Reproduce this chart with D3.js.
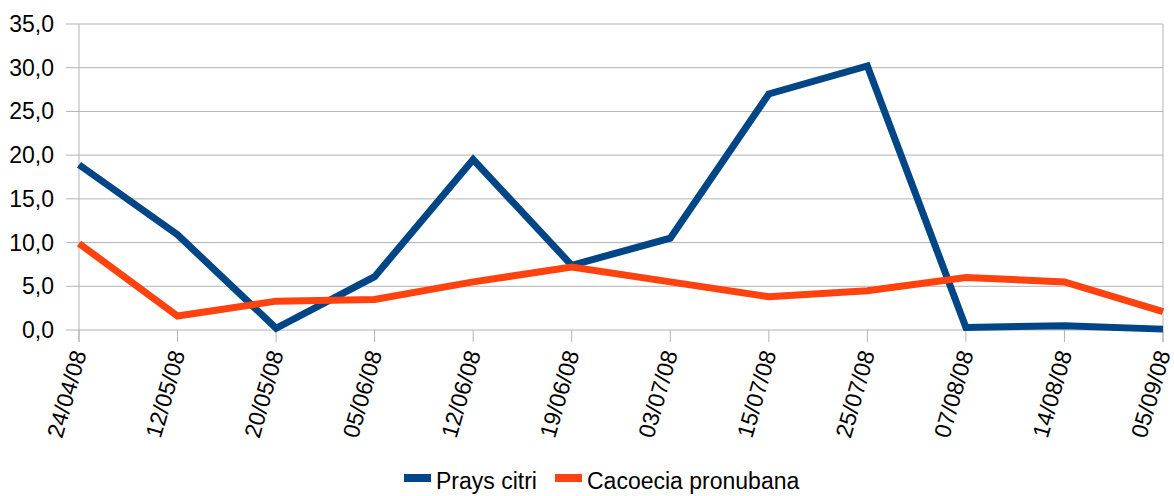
<!DOCTYPE html>
<html>
<head>
<meta charset="utf-8">
<script src="https://cdn.jsdelivr.net/npm/d3@7"></script>
<style>
  body { margin: 0; background: #fff; }
  svg text { font-family: "Liberation Sans", Arial, sans-serif; fill: #000; }
</style>
</head>
<body>
<svg id="chart" width="1174" height="496"></svg>
<script>
// dates of the samples
var dates = ["24/04/08", "12/05/08", "20/05/08", "05/06/08", "12/06/08", "19/06/08",
             "03/07/08", "15/07/08", "25/07/08", "07/08/08", "14/08/08", "05/09/08"];

var praysCitri = [18.9, 10.9, 0.2, 6.1, 19.5, 7.4, 10.5, 27.0, 30.2, 0.3, 0.5, 0.1];
var cacoecia   = [9.9, 1.6, 3.3, 3.5, 5.5, 7.2, 5.5, 3.8, 4.5, 6.0, 5.5, 2.1];

var yTicks = [0, 5, 10, 15, 20, 25, 30, 35];

var series = [
    {name: "Prays citri",        values: praysCitri, color: "#004586"},
    {name: "Cacoecia pronubana", values: cacoecia,   color: "#ff420e"}
];

var svg = d3.select("#chart");
var plotL = 79, plotR = 1163, plotT = 24, plotB = 330;

var x = d3.scalePoint().domain(dates).range([plotL, plotR]);
var y = d3.scaleLinear().domain([0, 35]).range([plotB, plotT]);

var fmt = function(v) { return d3.format(".1f")(v).replace(".", ","); };

// grid lines
svg.append("g")
    .selectAll("line")
    .data(yTicks)
    .enter().append("line")
        .attr("x1", plotL - 13).attr("x2", plotR)
        .attr("y1", function(d) { return y(d); })
        .attr("y2", function(d) { return y(d); })
        .attr("stroke", "#b3b3b3").attr("stroke-width", 1);

// walls: left axis and right border
svg.append("line").attr("x1", plotL).attr("x2", plotL).attr("y1", plotT).attr("y2", plotB + 12)
    .attr("stroke", "#b3b3b3");
svg.append("line").attr("x1", plotR).attr("x2", plotR).attr("y1", plotT).attr("y2", plotB + 12)
    .attr("stroke", "#b3b3b3");

// y labels
svg.append("g")
    .selectAll("text")
    .data(yTicks)
    .enter().append("text")
        .attr("x", 54)
        .attr("y", function(d) { return y(d); })
        .attr("dy", "0.35em")
        .attr("text-anchor", "end")
        .style("font-size", "23px")
        .text(fmt);

// x ticks
svg.append("g")
    .selectAll("line")
    .data(dates)
    .enter().append("line")
        .attr("x1", function(d) { return x(d); })
        .attr("x2", function(d) { return x(d); })
        .attr("y1", plotB).attr("y2", plotB + 12)
        .attr("stroke", "#b3b3b3");

// x labels, slanted
svg.append("g")
    .selectAll("text")
    .data(dates)
    .enter().append("text")
        .attr("transform", function(d) { return "translate(" + x(d) + "," + 351 + ") rotate(-74)"; })
        .attr("dy", "0.35em")
        .attr("text-anchor", "end")
        .style("font-size", "23px")
        .text(function(d) { return d; });

// lines
var line = d3.line()
    .x(function(d, i) { return x(dates[i]); })
    .y(function(d) { return y(d); });

svg.append("g")
    .selectAll("path")
    .data(series)
    .enter().append("path")
        .attr("d", function(s) { return line(s.values); })
        .attr("fill", "none")
        .attr("stroke", function(s) { return s.color; })
        .attr("stroke-width", 7)
        .attr("stroke-linejoin", "miter");

// legend
var legendX = [404, 555];
var leg = svg.append("g")
    .selectAll("g")
    .data(series)
    .enter().append("g")
        .attr("transform", function(s, i) { return "translate(" + legendX[i] + ",0)"; });

leg.append("rect")
    .attr("x", 0).attr("y", 474)
    .attr("width", 27).attr("height", 8)
    .attr("fill", function(s) { return s.color; });

leg.append("text")
    .attr("x", 32).attr("y", 489)
    .style("font-size", "23px")
    .text(function(s) { return s.name; });
</script>
</body>
</html>
